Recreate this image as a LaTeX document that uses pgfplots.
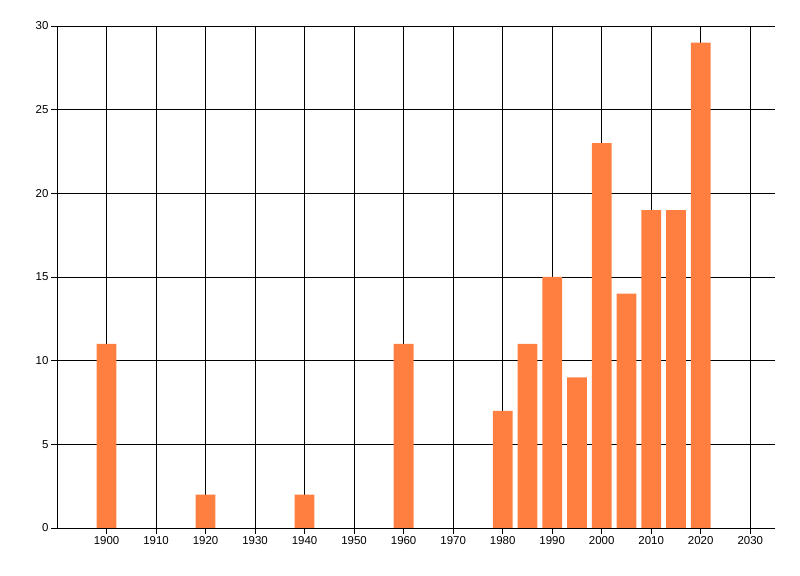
\documentclass[border=0pt]{standalone}
\usepackage{pgfplots}
\pgfplotsset{compat=1.18}
\usepackage{fontspec}
\setmainfont{Liberation Sans}
\definecolor{barorange}{RGB}{255,127,64}
\begin{document}
\begin{tikzpicture}[x=1bp,y=1bp]
\path[use as bounding box] (0,0) rectangle (800,576);
\begin{axis}[
  at={(57bp,48bp)}, anchor=south west,
  scale only axis, width=718bp, height=502bp,
  xmin=1890, xmax=2035, ymin=0, ymax=30,
  xtick={1900,1910,...,2030}, ytick={0,5,...,30},
  axis x line*=bottom, axis y line*=left,
  axis line style={black, line width=0.9bp, -},
  grid=major, grid style={black, line width=0.9bp},
  tick style={black, line width=0.9bp},
  major tick length=6bp,
  tick align=outside,
  xticklabel style={font=\fontsize{11.5}{13}\selectfont, yshift=1bp},
  yticklabel style={font=\fontsize{11.5}{13}\selectfont, xshift=1bp},
  /pgf/number format/assume math mode=true,
  /pgf/number format/1000 sep={},
  ybar, bar width=4,
]
\addplot[fill=barorange, draw=none] coordinates {
(1900,11) (1920,2) (1940,2) (1960,11) (1980,7) (1985,11) (1990,15)
(1995,9) (2000,23) (2005,14) (2010,19) (2015,19) (2020,29)
};
\end{axis}
\end{tikzpicture}
\end{document}
